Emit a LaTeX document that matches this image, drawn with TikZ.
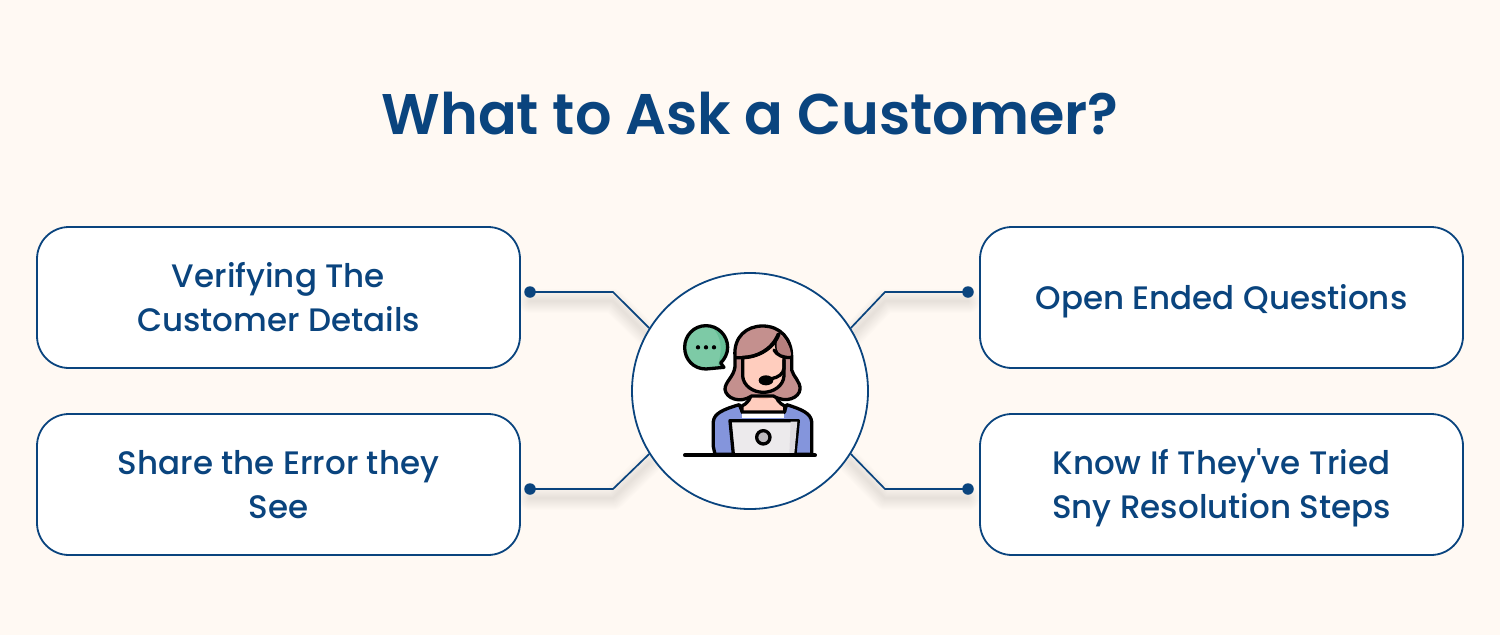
\documentclass[tikz,border=0pt]{standalone}
\usepackage{fontspec}
\setmainfont[Ligatures=TeXOff]{Poppins}
\newfontfamily\titlefont{Poppins SemiBold}
\newfontfamily\cardfont[Ligatures=TeXOff]{Poppins Medium}
\definecolor{bgc}{HTML}{FFF9F3}
\definecolor{navy}{HTML}{0A447E}
\definecolor{hairc}{HTML}{C4908E}
\definecolor{hairdk}{HTML}{B57F7D}
\definecolor{skinc}{HTML}{FFCDBE}
\definecolor{skindk}{HTML}{FBB8A5}
\definecolor{jacket}{HTML}{8495DC}
\definecolor{bubble}{HTML}{7DCAA6}
\definecolor{bubbledk}{HTML}{65BD95}
\definecolor{lapc}{HTML}{ECEAEC}
\definecolor{lapdk}{HTML}{DEDBDF}
\newcommand{\cardlabel}[1]{\raisebox{-3pt}[\height][\depth]{\begin{tabular}{@{}c@{}}#1\end{tabular}}}
\tikzset{
  card/.style={draw=navy,line width=1.8pt,fill=white,rounded corners=32pt,minimum width=483pt,minimum height=141pt,inner sep=0pt,text=navy,font=\fontsize{32.5}{44}\cardfont\selectfont},
  hubdisc/.style={circle,draw=navy,line width=1.8pt,fill=white,minimum size=236pt,inner sep=0pt},
  pin/.style={circle,fill=navy,minimum size=11.5pt,inner sep=0pt},
  wire/.style={draw=navy,line width=1.7pt},
  halo/.style={draw=black!60,opacity=0.012,line join=round,line cap=round},
  ink/.style={draw=black,line width=3.3pt,line join=round,line cap=round},
}
\newcommand{\haloline}[3]{%
  \foreach \w in {2,4,...,24}{\draw[halo,line width=\w pt] ([yshift=-9pt]#1) -- ([yshift=-9pt]#2) -- ([yshift=-9pt]#3);}}
\begin{document}
\begin{tikzpicture}[x=1pt,y=-1pt]
\path[use as bounding box,fill=bgc] (0,0) rectangle (1500,635);
\node[text=navy,font=\fontsize{57.3}{70}\titlefont\selectfont] (title) at (750,114) {What to Ask a Customer?};
% anchors
\coordinate (bendA) at (613,292);
\coordinate (bendB) at (613,489);
\coordinate (bendC) at (885,292);
\coordinate (bendD) at (885,489);
\node[hubdisc,draw=none,fill=none] (hubref) at (750,391) {};
\node[pin,fill=none] (pinA) at (530,292) {};
\node[pin,fill=none] (pinB) at (530,489) {};
\node[pin,fill=none] (pinC) at (968,292) {};
\node[pin,fill=none] (pinD) at (968,489) {};
% soft shadows
\haloline{pinA.center}{bendA}{hubref.148}
\haloline{pinB.center}{bendB}{hubref.212}
\haloline{pinC.center}{bendC}{hubref.32}
\haloline{pinD.center}{bendD}{hubref.-32}
% cards
\node[card] (cardA) at (278.5,297.5) {\cardlabel{Verifying The\\Customer Details}};
\node[card] (cardB) at (278.5,484.5) {\cardlabel{Share the Error they\\See}};
\node[card] (cardC) at (1221.5,297.5) {\cardlabel{Open Ended Questions}};
\node[card] (cardD) at (1221.5,484.5) {\cardlabel{Know If They've Tried\\Sny Resolution Steps}};
% hub
\node[hubdisc] (hub) at (750,391) {};
% connectors
\node[pin] (dotA) at (530,292) {};
\node[pin] (dotB) at (530,489) {};
\node[pin] (dotC) at (968,292) {};
\node[pin] (dotD) at (968,489) {};
\draw[wire] (dotA.center) -- (bendA) -- (hub.148);
\draw[wire] (dotB.center) -- (bendB) -- (hub.212);
\draw[wire] (dotC.center) -- (bendC) -- (hub.32);
\draw[wire] (dotD.center) -- (bendD) -- (hub.-32);
% icon, drawn in zoomed coordinates
\begin{scope}[shift={(630,270)},x=0.3333pt,y=-0.3333pt]
  % speech bubble
  \path[fill=bubble] (285,292) -- (228,297) .. controls (190,297) and (164,268) .. (164,232) .. controls (164,196) and (192,167) .. (228,167) .. controls (264,167) and (293,196) .. (293,232) .. controls (293,252) and (283,268) .. (272,279) -- cycle;
  \path[fill=bubbledk] (245,170) .. controls (272,176) and (293,200) .. (293,232) .. controls (293,252) and (283,268) .. (272,279) -- (262,290) .. controls (272,260) and (285,210) .. (245,170) -- cycle;
  \draw[ink] (282,292) -- (228,297) .. controls (190,297) and (164,268) .. (164,232) .. controls (164,196) and (192,167) .. (228,167) .. controls (264,167) and (293,196) .. (293,232) .. controls (293,252) and (283,268) .. (272,279) -- (282,292);
  \fill (204,232) circle (6.5) (228,232) circle (6.5) (252,232) circle (6.5);
  % jacket
  \draw[ink,fill=jacket] (250,530) -- (250,455) .. controls (252,430) and (280,418) .. (328,404) -- (338,428) -- (462,428) -- (470,404) .. controls (515,418) and (543,430) .. (545,455) -- (545,553) -- (255,553) -- (250,530);
  % neck and shirt
  \path[fill=white] (337,428) rectangle (463,445);
  \draw[ink,fill=skinc] (366,360) .. controls (366,385) and (350,402) .. (336,408) -- (336,426) -- (464,426) -- (464,408) .. controls (450,402) and (434,385) .. (434,360) -- cycle;
  \path[fill=skindk] (368,372) -- (432,372) .. controls (430,380) and (415,388) .. (400,388) .. controls (385,388) and (372,380) .. (368,372) -- cycle;
  % hair
  \draw[ink,fill=hairc] (315,260) .. controls (310,200) and (350,168) .. (398,168) .. controls (450,168) and (485,205) .. (485,260) -- (485,300) .. controls (490,320) and (512,335) .. (510,358) .. controls (508,382) and (470,402) .. (430,378) -- (365,378) .. controls (330,402) and (288,385) .. (285,358) .. controls (285,335) and (312,320) .. (315,290) -- cycle;
  % face
  \draw[ink,fill=skinc] (338,262) -- (338,318) .. controls (340,348) and (370,367) .. (400,367) .. controls (430,367) and (460,348) .. (462,318) -- (462,255) .. controls (445,250) and (430,232) .. (445,192) .. controls (425,240) and (380,262) .. (338,262) -- cycle;
  \path[fill=hairdk] (447,195) .. controls (468,208) and (483,232) .. (483,258) -- (462,262) .. controls (445,255) and (430,232) .. (447,195) -- cycle;
  \draw[ink] (318,263) .. controls (375,268) and (430,240) .. (447,192);
  \draw[ink] (432,240) .. controls (440,255) and (460,265) .. (484,262);
  % headset
  \draw[ink] (462,270) -- (462,295) .. controls (460,312) and (445,322) .. (425,326);
  \fill (408,331) ellipse (22 and 15);
  % laptop
  \draw[ink,fill=lapc] (310,553) -- (300,452) -- (505,452) -- (495,553);
  \path[fill=lapdk] (482,455) -- (502,455) -- (493,550) -- (478,550) -- cycle;
  \draw[ink,fill=lapdk!85!black] (400,502) circle (20);
  % desk
  \draw[ink,line width=4pt] (165,556) -- (555,556);
\end{scope}
\end{tikzpicture}
\end{document}
